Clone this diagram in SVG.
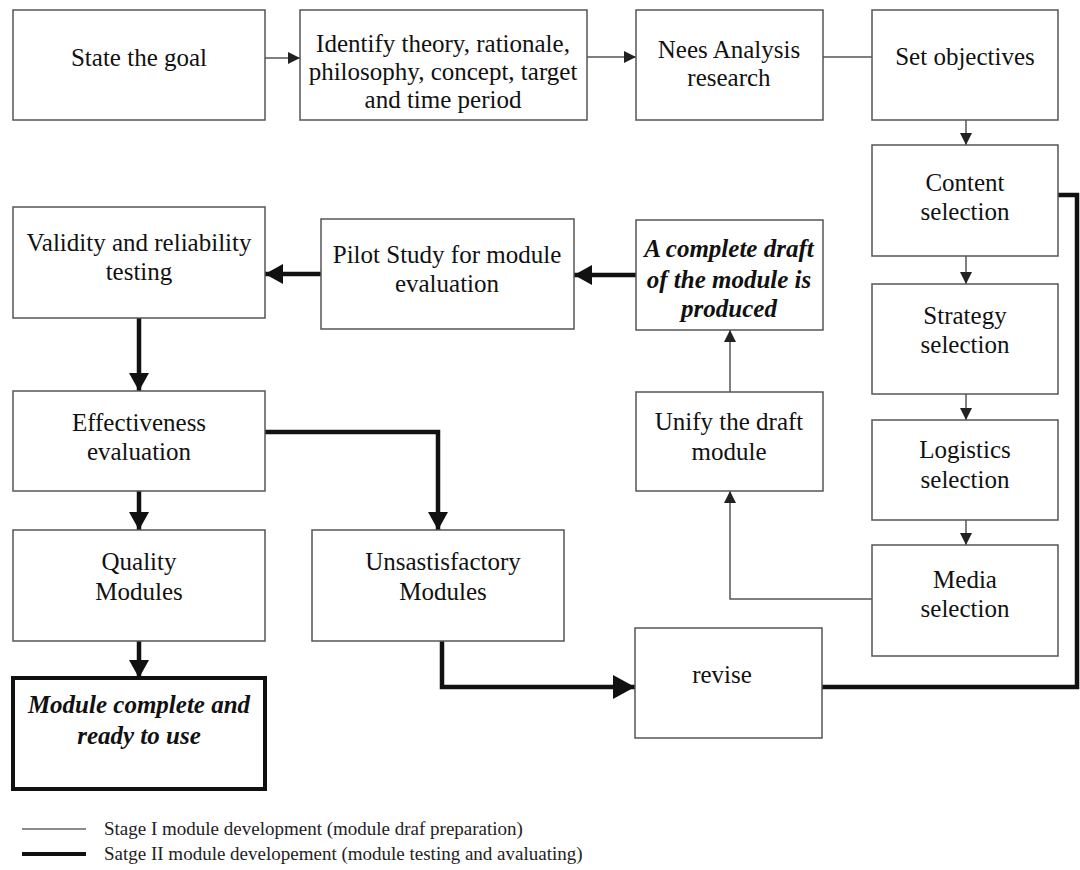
<svg xmlns="http://www.w3.org/2000/svg" width="1080" height="870" viewBox="0 0 1080 870">
  <style>
    .box { fill: #fff; stroke: #555; stroke-width: 1.5; }
    .box-final { fill: #fff; stroke: #111; stroke-width: 4; }
    .lbl { font-family: "Liberation Serif", "Times New Roman", serif; font-size: 25px; fill: #111; text-anchor: middle; }
    .lbl-em { font-family: "Liberation Serif", "Times New Roman", serif; font-size: 25px; fill: #111; text-anchor: middle; font-weight: bold; font-style: italic; }
    .thin { fill: none; stroke: #555; stroke-width: 1.5; }
    .thick { fill: none; stroke: #111; stroke-width: 4.5; }
    .legend { font-family: "Liberation Serif", "Times New Roman", serif; font-size: 19px; fill: #222; }
  </style>
  <defs>
    <marker id="arrow-thin" markerUnits="userSpaceOnUse" markerWidth="12" markerHeight="12" viewBox="0 0 12 12" refX="12" refY="6" orient="auto">
      <path d="M0,0 L12,6 L0,12 Z" fill="#222"/>
    </marker>
    <marker id="arrow-thick" markerUnits="userSpaceOnUse" markerWidth="18" markerHeight="20" viewBox="0 0 18 20" refX="18" refY="10" orient="auto">
      <path d="M0,0 L18,10 L0,20 Z" fill="#111"/>
    </marker>
    <marker id="arrow-big" markerUnits="userSpaceOnUse" markerWidth="22" markerHeight="24" viewBox="0 0 22 24" refX="22" refY="12" orient="auto">
      <path d="M0,0 L22,12 L0,24 Z" fill="#111"/>
    </marker>
  </defs>

  <rect width="1080" height="870" fill="#fff"/>

  <!-- connectors -->
  <g id="connectors">
    <!-- stage I (thin) -->
    <line class="thin" x1="265" y1="58" x2="300" y2="58" marker-end="url(#arrow-thin)"/>
    <line class="thin" x1="587" y1="57" x2="636" y2="57" marker-end="url(#arrow-thin)"/>
    <line class="thin" x1="823" y1="57" x2="872" y2="57"/>
    <line class="thin" x1="966" y1="120" x2="966" y2="145" marker-end="url(#arrow-thin)"/>
    <line class="thin" x1="966" y1="256" x2="966" y2="284" marker-end="url(#arrow-thin)"/>
    <line class="thin" x1="966" y1="394" x2="966" y2="420" marker-end="url(#arrow-thin)"/>
    <line class="thin" x1="966" y1="520" x2="966" y2="545" marker-end="url(#arrow-thin)"/>
    <polyline class="thin" points="872,599 730,599 730,491" marker-end="url(#arrow-thin)"/>
    <line class="thin" x1="730" y1="392" x2="730" y2="330" marker-end="url(#arrow-thin)"/>

    <!-- stage II (thick) -->
    <line class="thick" x1="636" y1="275" x2="574" y2="275" marker-end="url(#arrow-thick)"/>
    <line class="thick" x1="321" y1="274" x2="265" y2="274" marker-end="url(#arrow-thick)"/>
    <line class="thick" x1="139" y1="318" x2="139" y2="391" marker-end="url(#arrow-thick)"/>
    <polyline class="thick" points="265,432 438,432 438,530" marker-end="url(#arrow-thick)"/>
    <line class="thick" x1="139" y1="491" x2="139" y2="530" marker-end="url(#arrow-thick)"/>
    <line class="thick" x1="139" y1="641" x2="139" y2="678" marker-end="url(#arrow-thick)"/>
    <polyline class="thick" points="442,641 442,687 635,687" marker-end="url(#arrow-big)"/>
    <polyline class="thick" points="822,687 1077,687 1077,195 1058,195"/>
  </g>

  <!-- nodes -->
  <g id="state-goal">
    <rect class="box" x="13" y="10" width="252" height="110"/>
    <text class="lbl" x="139" y="66">State the goal</text>
  </g>
  <g id="identify-theory">
    <rect class="box" x="300" y="10" width="287" height="110"/>
    <text class="lbl" x="443" y="52">Identify theory, rationale,</text>
    <text class="lbl" x="443" y="80">philosophy, concept, target</text>
    <text class="lbl" x="443" y="108">and time period</text>
  </g>
  <g id="needs-analysis">
    <rect class="box" x="636" y="10" width="187" height="110"/>
    <text class="lbl" x="729" y="58">Nees Analysis</text>
    <text class="lbl" x="729" y="86">research</text>
  </g>
  <g id="set-objectives">
    <rect class="box" x="872" y="10" width="186" height="110"/>
    <text class="lbl" x="965" y="65">Set objectives</text>
  </g>
  <g id="content-selection">
    <rect class="box" x="872" y="145" width="186" height="111"/>
    <text class="lbl" x="965" y="191">Content</text>
    <text class="lbl" x="965" y="220">selection</text>
  </g>
  <g id="strategy-selection">
    <rect class="box" x="872" y="284" width="186" height="110"/>
    <text class="lbl" x="965" y="324">Strategy</text>
    <text class="lbl" x="965" y="353">selection</text>
  </g>
  <g id="logistics-selection">
    <rect class="box" x="872" y="420" width="186" height="100"/>
    <text class="lbl" x="965" y="458">Logistics</text>
    <text class="lbl" x="965" y="488">selection</text>
  </g>
  <g id="media-selection">
    <rect class="box" x="872" y="545" width="186" height="111"/>
    <text class="lbl" x="965" y="588">Media</text>
    <text class="lbl" x="965" y="617">selection</text>
  </g>
  <g id="complete-draft">
    <rect class="box" x="636" y="220" width="187" height="110"/>
    <text class="lbl-em" x="729" y="257">A complete draft</text>
    <text class="lbl-em" x="729" y="288">of the module is</text>
    <text class="lbl-em" x="729" y="317">produced</text>
  </g>
  <g id="unify-draft">
    <rect class="box" x="636" y="392" width="187" height="99"/>
    <text class="lbl" x="729" y="430">Unify the draft</text>
    <text class="lbl" x="729" y="460">module</text>
  </g>
  <g id="pilot-study">
    <rect class="box" x="321" y="219" width="253" height="110"/>
    <text class="lbl" x="447" y="263">Pilot Study for module</text>
    <text class="lbl" x="447" y="292">evaluation</text>
  </g>
  <g id="validity-testing">
    <rect class="box" x="13" y="207" width="252" height="111"/>
    <text class="lbl" x="139" y="251">Validity and reliability</text>
    <text class="lbl" x="139" y="280">testing</text>
  </g>
  <g id="effectiveness-evaluation">
    <rect class="box" x="13" y="391" width="252" height="100"/>
    <text class="lbl" x="139" y="431">Effectiveness</text>
    <text class="lbl" x="139" y="460">evaluation</text>
  </g>
  <g id="quality-modules">
    <rect class="box" x="13" y="530" width="252" height="111"/>
    <text class="lbl" x="139" y="570">Quality</text>
    <text class="lbl" x="139" y="600">Modules</text>
  </g>
  <g id="unsatisfactory-modules">
    <rect class="box" x="312" y="530" width="252" height="111"/>
    <text class="lbl" x="443" y="570">Unsastisfactory</text>
    <text class="lbl" x="443" y="600">Modules</text>
  </g>
  <g id="module-complete">
    <rect class="box-final" x="13" y="678" width="252" height="111"/>
    <text class="lbl-em" x="139" y="713">Module complete and</text>
    <text class="lbl-em" x="139" y="744">ready to use</text>
  </g>
  <g id="revise">
    <rect class="box" x="635" y="628" width="187" height="110"/>
    <text class="lbl" x="722" y="683">revise</text>
  </g>

  <!-- legend -->
  <g id="legend">
    <line x1="22" y1="829" x2="86" y2="829" stroke="#666" stroke-width="1.5"/>
    <text class="legend" x="104" y="835">Stage I module development (module draf preparation)</text>
    <line x1="22" y1="854" x2="86" y2="854" stroke="#111" stroke-width="4"/>
    <text class="legend" x="104" y="860">Satge II module developement (module testing and avaluating)</text>
  </g>
</svg>
